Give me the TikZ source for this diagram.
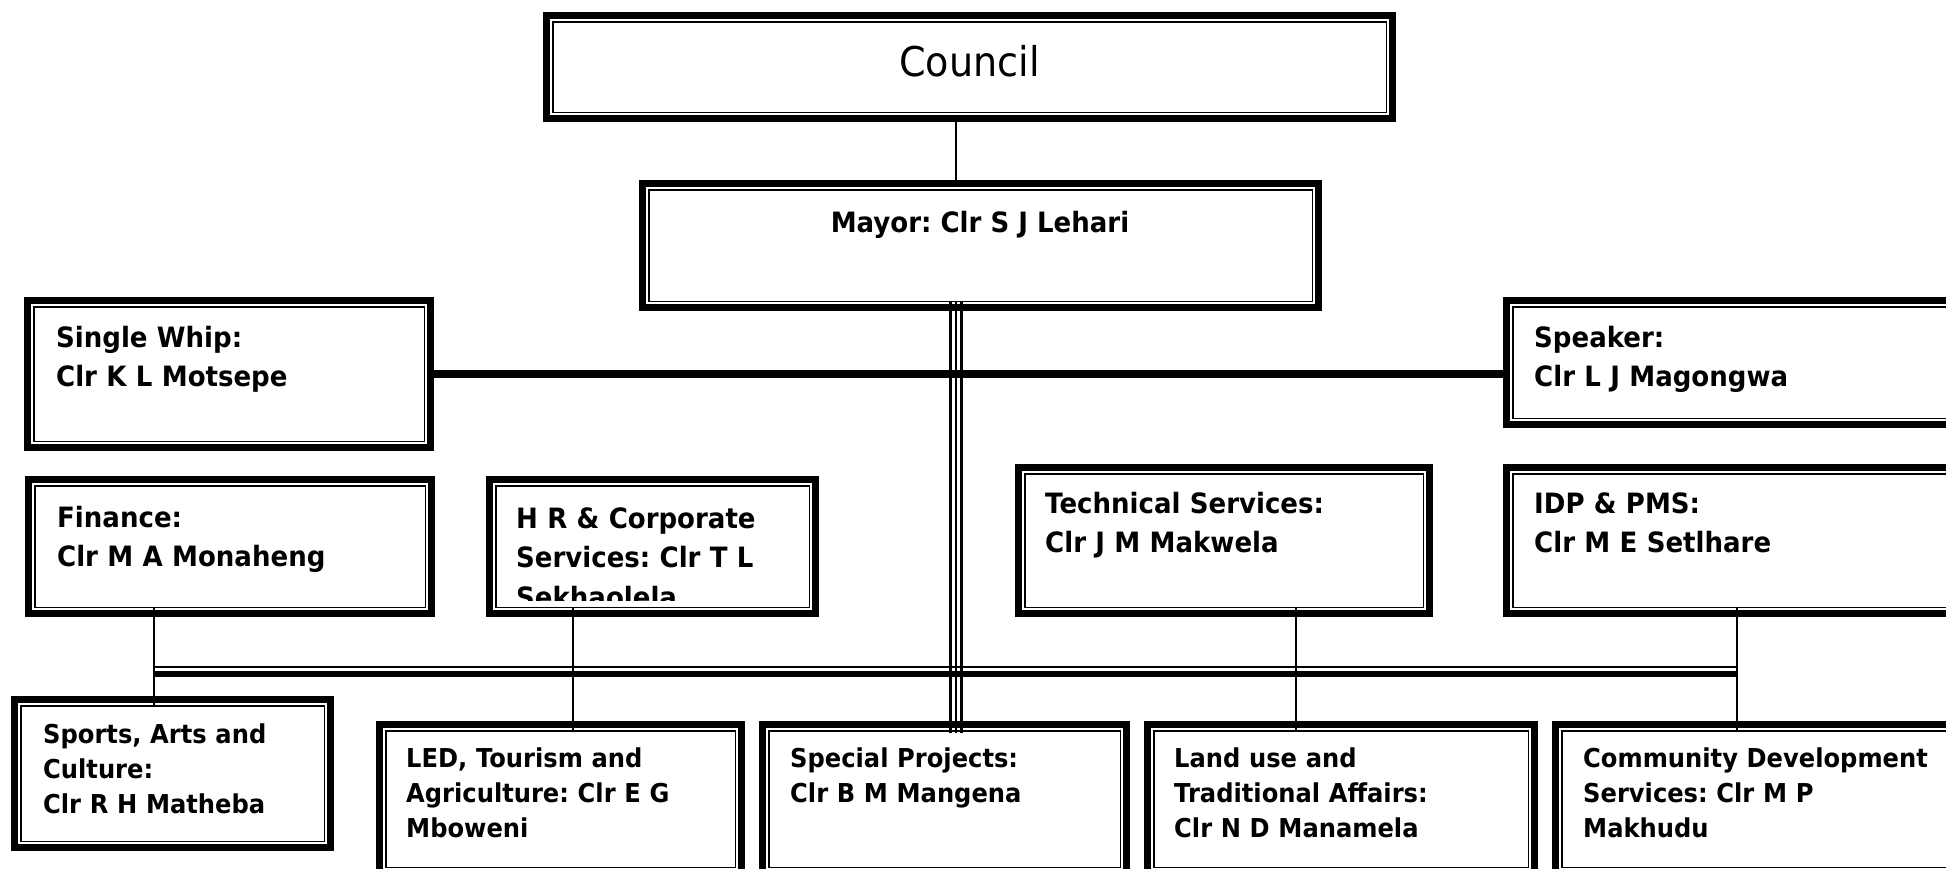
\documentclass[tikz,border=0pt]{standalone}
\usepackage{fontspec}
\setmainfont{DejaVu Sans}[FakeStretch=0.93]
\frenchspacing
\tikzset{
  boxst/.style={draw=black, line width=7pt, outer sep=0pt, inner sep=0pt, rectangle},
  innerln/.style={draw=black, line width=1.5pt},
  conn/.style={draw=black, line width=1.6pt},
  bar/.style={draw=black, line width=7.5pt},
  tripleln/.style={draw=black, line width=2.8pt},
  toptxt/.style={font=\fontsize{28}{39.5}\selectfont\bfseries, text width=440pt, align=left, inner sep=0pt, anchor=base west},
  bottxt/.style={font=\fontsize{26}{35}\selectfont\bfseries, text width=440pt, align=left, inner sep=0pt, anchor=base west},
}
\newcommand\obox[5]{%
  \node[boxst, anchor=north west, minimum width={#4-#2-7}, minimum height={#5-#3-7}] (#1) at ({#2+3.5},{#3+3.5}) {};
  \draw[innerln] ([shift={(6.25pt,-6.25pt)}]#1.north west) rectangle ([shift={(-6.25pt,6.25pt)}]#1.south east);
}
\begin{document}
\begin{tikzpicture}[x=1pt, y=-1pt]
\useasboundingbox (0,0) rectangle (1946,868);
\fill[white] (0,0) rectangle (1946,868);
\clip (0,0) rectangle (1946,868);

% boxes
\obox{council}{543}{12}{1396}{122}
\obox{mayor}{639}{180}{1322}{311}
\obox{whip}{24}{297}{434}{451}
\obox{speaker}{1503}{297}{1975}{428}
\obox{finance}{25}{476}{435}{617}
\obox{hr}{486}{476}{819}{617}
\obox{tech}{1015}{464}{1433}{617}
\obox{idp}{1503}{464}{1975}{617}
\obox{sports}{11}{696}{334}{851}
\obox{led}{376}{721}{745}{877}
\obox{special}{759}{721}{1130}{877}
\obox{land}{1144}{721}{1538}{877}
\obox{comm}{1552}{721}{1975}{877}

% connector positions
\coordinate (spine) at (956,0);
\coordinate (fx) at (154,0);
\coordinate (hx) at (573,0);
\coordinate (tx) at (1296,0);
\coordinate (ix) at (1737,0);
\coordinate (busL) at (153,674);
\coordinate (busR) at (1738,674);

% council -> mayor
\draw[conn] (spine |- council.south) -- (spine |- mayor.north);
% triple line mayor -> special projects
\foreach \d in {-5.5,0,5.5}{
  \draw[tripleln] ([xshift=\d pt, yshift=6pt]spine |- mayor.south) -- ([xshift=\d pt, yshift=-8pt]spine |- special.north);
}
% whip -- speaker
\draw[bar] (whip.east) -- (whip.east -| speaker.west);
% bus (thin over thick)
\draw[line width=6.6pt] (busL) -- (busR);
\draw[line width=2pt] ([yshift=7pt]busL) -- ([yshift=7pt]busR);
% verticals
\draw[conn] ([yshift=6pt]fx |- finance.south) -- ([yshift=-6pt]fx |- sports.north);
\draw[conn] ([yshift=6pt]hx |- hr.south) -- ([yshift=-6pt]hx |- led.north);
\draw[conn] ([yshift=6pt]tx |- tech.south) -- ([yshift=-6pt]tx |- land.north);
\draw[conn] ([yshift=6pt]ix |- idp.south) -- ([yshift=-6pt]ix |- comm.north);

% texts
\node[font=\fontsize{41}{48}\selectfont, anchor=base, inner sep=0pt] (tcouncil) at (969.5,76) {Council};
\node[font=\fontsize{28}{39.5}\selectfont\bfseries, anchor=base, inner sep=0pt] (tmayor) at (980,232) {Mayor: Clr S J Lehari};
\node[toptxt] (twhip) at (56,347) {Single Whip:\\Clr K L Motsepe};
\node[toptxt] (tspeaker) at (1534,347) {Speaker:\\Clr L J Magongwa};
\node[toptxt] (tfinance) at (57,527) {Finance:\\Clr M A Monaheng};
\begin{scope}
  \clip (495,485) rectangle (810,600);
  \node[toptxt] (thr) at (516,528) {H R \& Corporate\\Services: Clr T L\\Sekhaolela};
\end{scope}
\node[toptxt] (ttech) at (1045,513) {Technical Services:\\Clr J M Makwela};
\node[toptxt] (tidp) at (1534,513) {IDP \& PMS:\\Clr M E Setlhare};
\node[bottxt] (tsports) at (43,743) {Sports, Arts and\\Culture:\\Clr R H Matheba};
\node[bottxt] (tled) at (406,767) {LED, Tourism and\\Agriculture: Clr E G\\Mboweni};
\node[bottxt] (tspecial) at (790,767) {Special Projects:\\Clr B M Mangena};
\node[bottxt] (tland) at (1174,767) {Land use and\\Traditional Affairs:\\Clr N D Manamela};
\node[bottxt] (tcomm) at (1583,767) {Community Development\\Services: Clr M P\\Makhudu};
\end{tikzpicture}
\end{document}
